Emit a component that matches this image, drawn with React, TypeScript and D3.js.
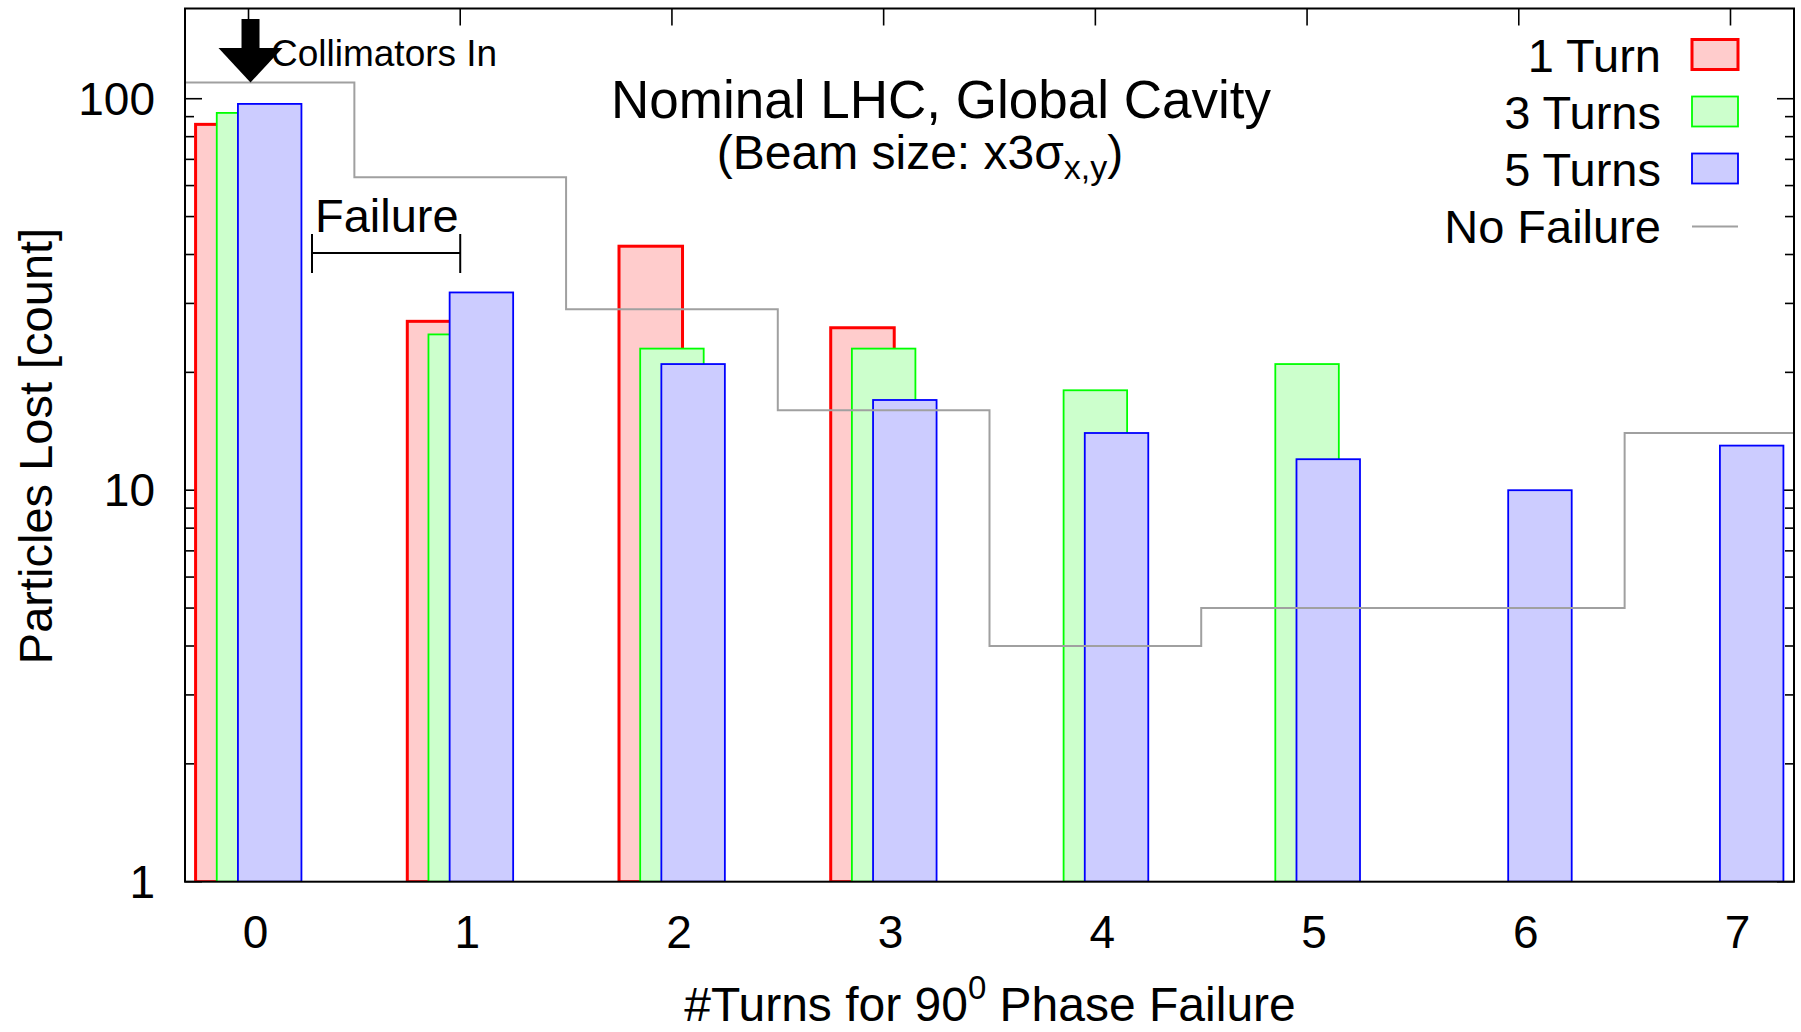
import React, { useEffect, useRef } from "react";
import * as d3 from "d3";

// Data
const CATEGORIES = [0, 1, 2, 3, 4, 5, 6, 7];
const ONE_TURN = [86, 27, 42, 26, null, null, null, null];
const THREE_TURNS = [92, 25, 23, 23, 18, 21, null, null];
const FIVE_TURNS = [97, 32, 21, 17, 14, 12, 10, 13];
const NO_FAILURE = [110, 63, 29, 16, 4, 5, 5, 14];
const Y_TICKS = [1, 10, 100];

const SERIES = [
    { name: "1 Turn", values: ONE_TURN, fill: "#ffcccc", stroke: "#ff0000", sw: 3, offset: -0.1 },
    { name: "3 Turns", values: THREE_TURNS, fill: "#ccffcc", stroke: "#00ff00", sw: 1.8, offset: 0 },
    { name: "5 Turns", values: FIVE_TURNS, fill: "#ccccff", stroke: "#0000ff", sw: 1.8, offset: 0.1 },
];

const FONT = "'Liberation Sans', Arial, Helvetica, sans-serif";
const W = 1801;
const H = 1032;

const App = () => {
    const svgRef = useRef<SVGSVGElement | null>(null);

    useEffect(() => {
        if (!svgRef.current) return;
        const svg = d3.select(svgRef.current);
        svg.selectAll("*").remove();

        const left = 185, right = 1794, top = 8.5, bottom = 881.7;

        const x = d3.scaleLinear().domain([-0.3, 7.3]).range([left, right]);
        const y = d3.scaleLog().domain([1, 170]).range([bottom, top]);
        const barW = x(0.3) - x(0);

        svg.append("defs").append("clipPath").attr("id", "plot-clip")
            .append("rect")
            .attr("x", left).attr("y", top)
            .attr("width", right - left).attr("height", bottom - top);

        // ── Ticks ─────────────────────────────────────────────────────────
        const ticks = svg.append("g").attr("stroke", "#000").attr("stroke-width", 1.6);
        const minor: number[] = [];
        Y_TICKS.forEach(d => d3.range(2, 10).forEach(k => { if (d * k <= 170) minor.push(d * k); }));

        Y_TICKS.forEach(v => {
            ticks.append("line").attr("x1", left).attr("x2", left + 17).attr("y1", y(v)).attr("y2", y(v));
            ticks.append("line").attr("x1", right).attr("x2", right - 17).attr("y1", y(v)).attr("y2", y(v));
        });
        minor.forEach(v => {
            ticks.append("line").attr("x1", left).attr("x2", left + 9).attr("y1", y(v)).attr("y2", y(v));
            ticks.append("line").attr("x1", right).attr("x2", right - 9).attr("y1", y(v)).attr("y2", y(v));
        });
        CATEGORIES.forEach(c => {
            ticks.append("line").attr("x1", x(c)).attr("x2", x(c)).attr("y1", top).attr("y2", top + 17);
            ticks.append("line").attr("x1", x(c)).attr("x2", x(c)).attr("y1", bottom).attr("y2", bottom - 17);
        });

        // ── Bars ──────────────────────────────────────────────────────────
        const bars = svg.append("g").attr("clip-path", "url(#plot-clip)");
        SERIES.forEach(s => {
            CATEGORIES.forEach((c, i) => {
                const v = s.values[i];
                if (v == null) return;
                const x0 = x(c + s.offset) - barW / 2;
                bars.append("rect")
                    .attr("x", x0)
                    .attr("y", y(v))
                    .attr("width", barW)
                    .attr("height", y(1) - y(v))
                    .attr("fill", s.fill)
                    .attr("stroke", s.stroke)
                    .attr("stroke-width", s.sw);
            });
        });

        // ── No failure histeps ────────────────────────────────────────────
        const stepPts: [number, number][] = [];
        CATEGORIES.forEach((c, i) => {
            stepPts.push([c - 0.5, NO_FAILURE[i]]);
            stepPts.push([c + 0.5, NO_FAILURE[i]]);
        });
        svg.append("path")
            .attr("clip-path", "url(#plot-clip)")
            .attr("d", d3.line<[number, number]>().x(d => x(d[0])).y(d => y(d[1]))(stepPts))
            .attr("fill", "none")
            .attr("stroke", "#a0a0a0")
            .attr("stroke-width", 2);

        // ── Frame ─────────────────────────────────────────────────────────
        svg.append("rect")
            .attr("x", left).attr("y", top)
            .attr("width", right - left).attr("height", bottom - top)
            .attr("fill", "none").attr("stroke", "#000").attr("stroke-width", 2);

        // ── Tick labels ───────────────────────────────────────────────────
        Y_TICKS.forEach(v => {
            svg.append("text")
                .attr("x", 155).attr("y", y(v) + 16)
                .attr("text-anchor", "end")
                .attr("font-size", "46px").attr("font-family", FONT)
                .text(v);
        });
        CATEGORIES.forEach(c => {
            svg.append("text")
                .attr("x", x(c) + 7).attr("y", 948)
                .attr("text-anchor", "middle")
                .attr("font-size", "46px").attr("font-family", FONT)
                .text(c);
        });

        // ── Axis titles ───────────────────────────────────────────────────
        svg.append("text")
            .attr("transform", "translate(52,446) rotate(-90)")
            .attr("text-anchor", "middle")
            .attr("font-size", "47px").attr("font-family", FONT)
            .text("Particles Lost [count]");

        const xl = svg.append("text")
            .attr("x", 990).attr("y", 1021)
            .attr("text-anchor", "middle")
            .attr("font-size", "48px").attr("font-family", FONT)
            .style("white-space", "pre");
        xl.append("tspan").text("#Turns for 90");
        xl.append("tspan").attr("font-size", "33px").attr("dy", -22).text("0");
        xl.append("tspan").attr("dy", 22).text(" Phase Failure");

        // ── Title ─────────────────────────────────────────────────────────
        svg.append("text")
            .attr("x", 941).attr("y", 118)
            .attr("text-anchor", "middle")
            .attr("font-size", "53px").attr("font-family", FONT)
            .text("Nominal LHC, Global Cavity");

        const sub = svg.append("text")
            .attr("x", 920).attr("y", 169)
            .attr("text-anchor", "middle")
            .attr("font-size", "48px").attr("font-family", FONT)
            .style("white-space", "pre");
        sub.append("tspan").text("(Beam size: x3σ");
        sub.append("tspan").attr("font-size", "34px").attr("dy", 10).text("x,y");
        sub.append("tspan").attr("dy", -10).text(")");

        // ── Collimators arrow ─────────────────────────────────────────────
        const ax = x(0) + 2;
        svg.append("rect")
            .attr("x", ax - 9).attr("y", 19)
            .attr("width", 18).attr("height", 32)
            .attr("fill", "#000");
        svg.append("path")
            .attr("d", `M${ax - 32},48 L${ax + 32},48 L${ax},${y(110)} Z`)
            .attr("fill", "#000");
        svg.append("text")
            .attr("x", 271).attr("y", 66)
            .attr("font-size", "37px").attr("font-family", FONT)
            .text("Collimators In");

        // ── Failure bracket ───────────────────────────────────────────────
        const fb = svg.append("g").attr("stroke", "#000").attr("stroke-width", 2);
        fb.append("line").attr("x1", x(0.3)).attr("x2", x(1)).attr("y1", 253).attr("y2", 253);
        fb.append("line").attr("x1", x(0.3)).attr("x2", x(0.3)).attr("y1", 234).attr("y2", 273);
        fb.append("line").attr("x1", x(1)).attr("x2", x(1)).attr("y1", 234).attr("y2", 273);
        svg.append("text")
            .attr("x", 315).attr("y", 232)
            .attr("font-size", "47px").attr("font-family", FONT)
            .text("Failure");

        // ── Legend ────────────────────────────────────────────────────────
        const legendRows = [...SERIES.map(s => s.name), "No Failure"];
        legendRows.forEach((label, i) => {
            const cy = 54.5 + 57 * i;
            svg.append("text")
                .attr("x", 1661).attr("y", cy + 17)
                .attr("text-anchor", "end")
                .attr("font-size", "47px").attr("font-family", FONT)
                .text(label);
            if (i < SERIES.length) {
                const s = SERIES[i];
                svg.append("rect")
                    .attr("x", 1692).attr("y", cy - 15)
                    .attr("width", 46).attr("height", 30)
                    .attr("fill", s.fill)
                    .attr("stroke", s.stroke)
                    .attr("stroke-width", s.sw);
            } else {
                svg.append("line")
                    .attr("x1", 1692).attr("x2", 1738)
                    .attr("y1", cy + 1).attr("y2", cy + 1)
                    .attr("stroke", "#a0a0a0").attr("stroke-width", 2);
            }
        });
    }, []);

    return (
        <svg
            ref={svgRef}
            width={W}
            height={H}
            style={{ position: "absolute", left: 0, top: 0, background: "#fff" }}
        />
    );
};

export default App;
